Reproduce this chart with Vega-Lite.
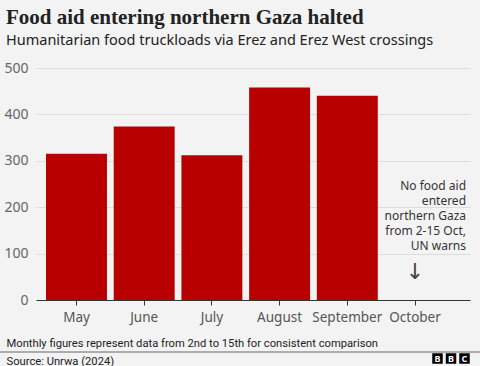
{
  "$schema": "https://vega.github.io/schema/vega-lite/v6.json",
  "width": 434,
  "height": 232,
  "autosize": {"type": "none"},
  "padding": {"left": 36, "top": 68, "right": 10, "bottom": 66},
  "background": "#f3f3f3",
  "config": {"view": {"stroke": null}, "font": "Noto Sans"},
  "title": {
    "text": "Food aid entering northern Gaza halted",
    "subtitle": "Humanitarian food truckloads via Erez and Erez West crossings",
    "anchor": "start",
    "frame": "group",
    "dx": -30,
    "font": "Liberation Serif",
    "fontSize": 21,
    "fontWeight": "bold",
    "color": "#222222",
    "subtitleFont": "Noto Sans",
    "subtitleFontSize": 14.5,
    "subtitleColor": "#222222",
    "subtitlePadding": 6,
    "offset": 14
  },
  "datasets": {
    "main": [
      {"month": "May", "trucks": 315, "note": ""},
      {"month": "June", "trucks": 374, "note": ""},
      {"month": "July", "trucks": 312, "note": ""},
      {"month": "August", "trucks": 458, "note": ""},
      {"month": "September", "trucks": 440, "note": ""},
      {"month": "October", "trucks": 0, "note": "No food aid\nentered\nnorthern Gaza\nfrom 2-15 Oct,\nUN warns"}
    ],
    "logo": [
      {"order": 1, "letter": "B"},
      {"order": 2, "letter": "B"},
      {"order": 3, "letter": "C"}
    ]
  },
  "layer": [
    {
      "data": {"name": "main"},
      "layer": [
        {
          "mark": {"type": "bar", "color": "#b80000"},
          "encoding": {
            "x": {
              "field": "month", "type": "nominal", "sort": null,
              "scale": {"paddingInner": 0.1, "paddingOuter": 0.255, "align": 0.29},
              "axis": {
                "title": ["Monthly figures represent data from 2nd to 15th for consistent comparison", "Source: Unrwa (2024)"],
                "titleAnchor": "start", "titleAlign": "left", "titleX": -30, "titleY": 46,
                "titleBaseline": "alphabetic", "titleFontSize": 11.2, "titleFontWeight": "normal",
                "titleColor": "#222222", "titleLineHeight": 18, "titleFont": "Roboto",
                "labelAngle": 0, "labelFontSize": 13.5, "labelColor": "#555555",
                "tickColor": "#333333", "domainColor": "#333333", "tickSize": 5, "labelPadding": 5
              }
            },
            "y": {
              "field": "trucks", "type": "quantitative",
              "scale": {"domain": [0, 500]},
              "axis": {
                "title": null, "values": [0, 100, 200, 300, 400, 500],
                "domain": false, "ticks": false, "labelPadding": 8,
                "labelFontSize": 14, "labelColor": "#666666",
                "gridColor": "#dddddd"
              }
            }
          }
        },
        {
          "mark": {"type": "text", "align": "right", "dx": 51, "baseline": "middle", "lineBreak": "\n", "fontSize": 12, "color": "#333333", "lineHeight": 15},
          "encoding": {
            "x": {"field": "month", "type": "nominal", "sort": null},
            "y": {"datum": 245},
            "text": {"field": "note"}
          }
        },
        {
          "transform": [{"filter": "datum.note != ''"}],
          "mark": {"type": "text", "fontSize": 22, "color": "#444444", "baseline": "middle", "font": "DejaVu Sans"},
          "encoding": {
            "x": {"field": "month", "type": "nominal", "sort": null},
            "y": {"datum": 60},
            "text": {"value": "↓"}
          }
        }
      ]
    },
    {
      "data": {"values": [{}]},
      "mark": {"type": "rule", "color": "#666666", "strokeWidth": 1},
      "encoding": {"x": {"value": -36}, "x2": {"value": 444}, "y": {"value": 284}}
    },
    {
      "data": {"name": "logo"},
      "layer": [
        {
          "mark": {"type": "point", "shape": "square", "filled": true, "color": "#000000", "size": 110, "opacity": 1},
          "encoding": {
            "x": {"field": "order", "type": "ordinal", "scale": {"type": "point", "range": [401.5, 428.5], "padding": 0}, "axis": null},
            "y": {"value": 290.5}
          }
        },
        {
          "mark": {"type": "text", "color": "#ffffff", "fontSize": 9, "fontWeight": "bold", "baseline": "middle", "font": "Noto Sans"},
          "encoding": {
            "x": {"field": "order", "type": "ordinal", "scale": {"type": "point", "range": [401.5, 428.5], "padding": 0}, "axis": null},
            "y": {"value": 290.5},
            "text": {"field": "letter"}
          }
        }
      ]
    }
  ],
  "resolve": {"scale": {"x": "independent"}, "axis": {"x": "independent"}}
}
